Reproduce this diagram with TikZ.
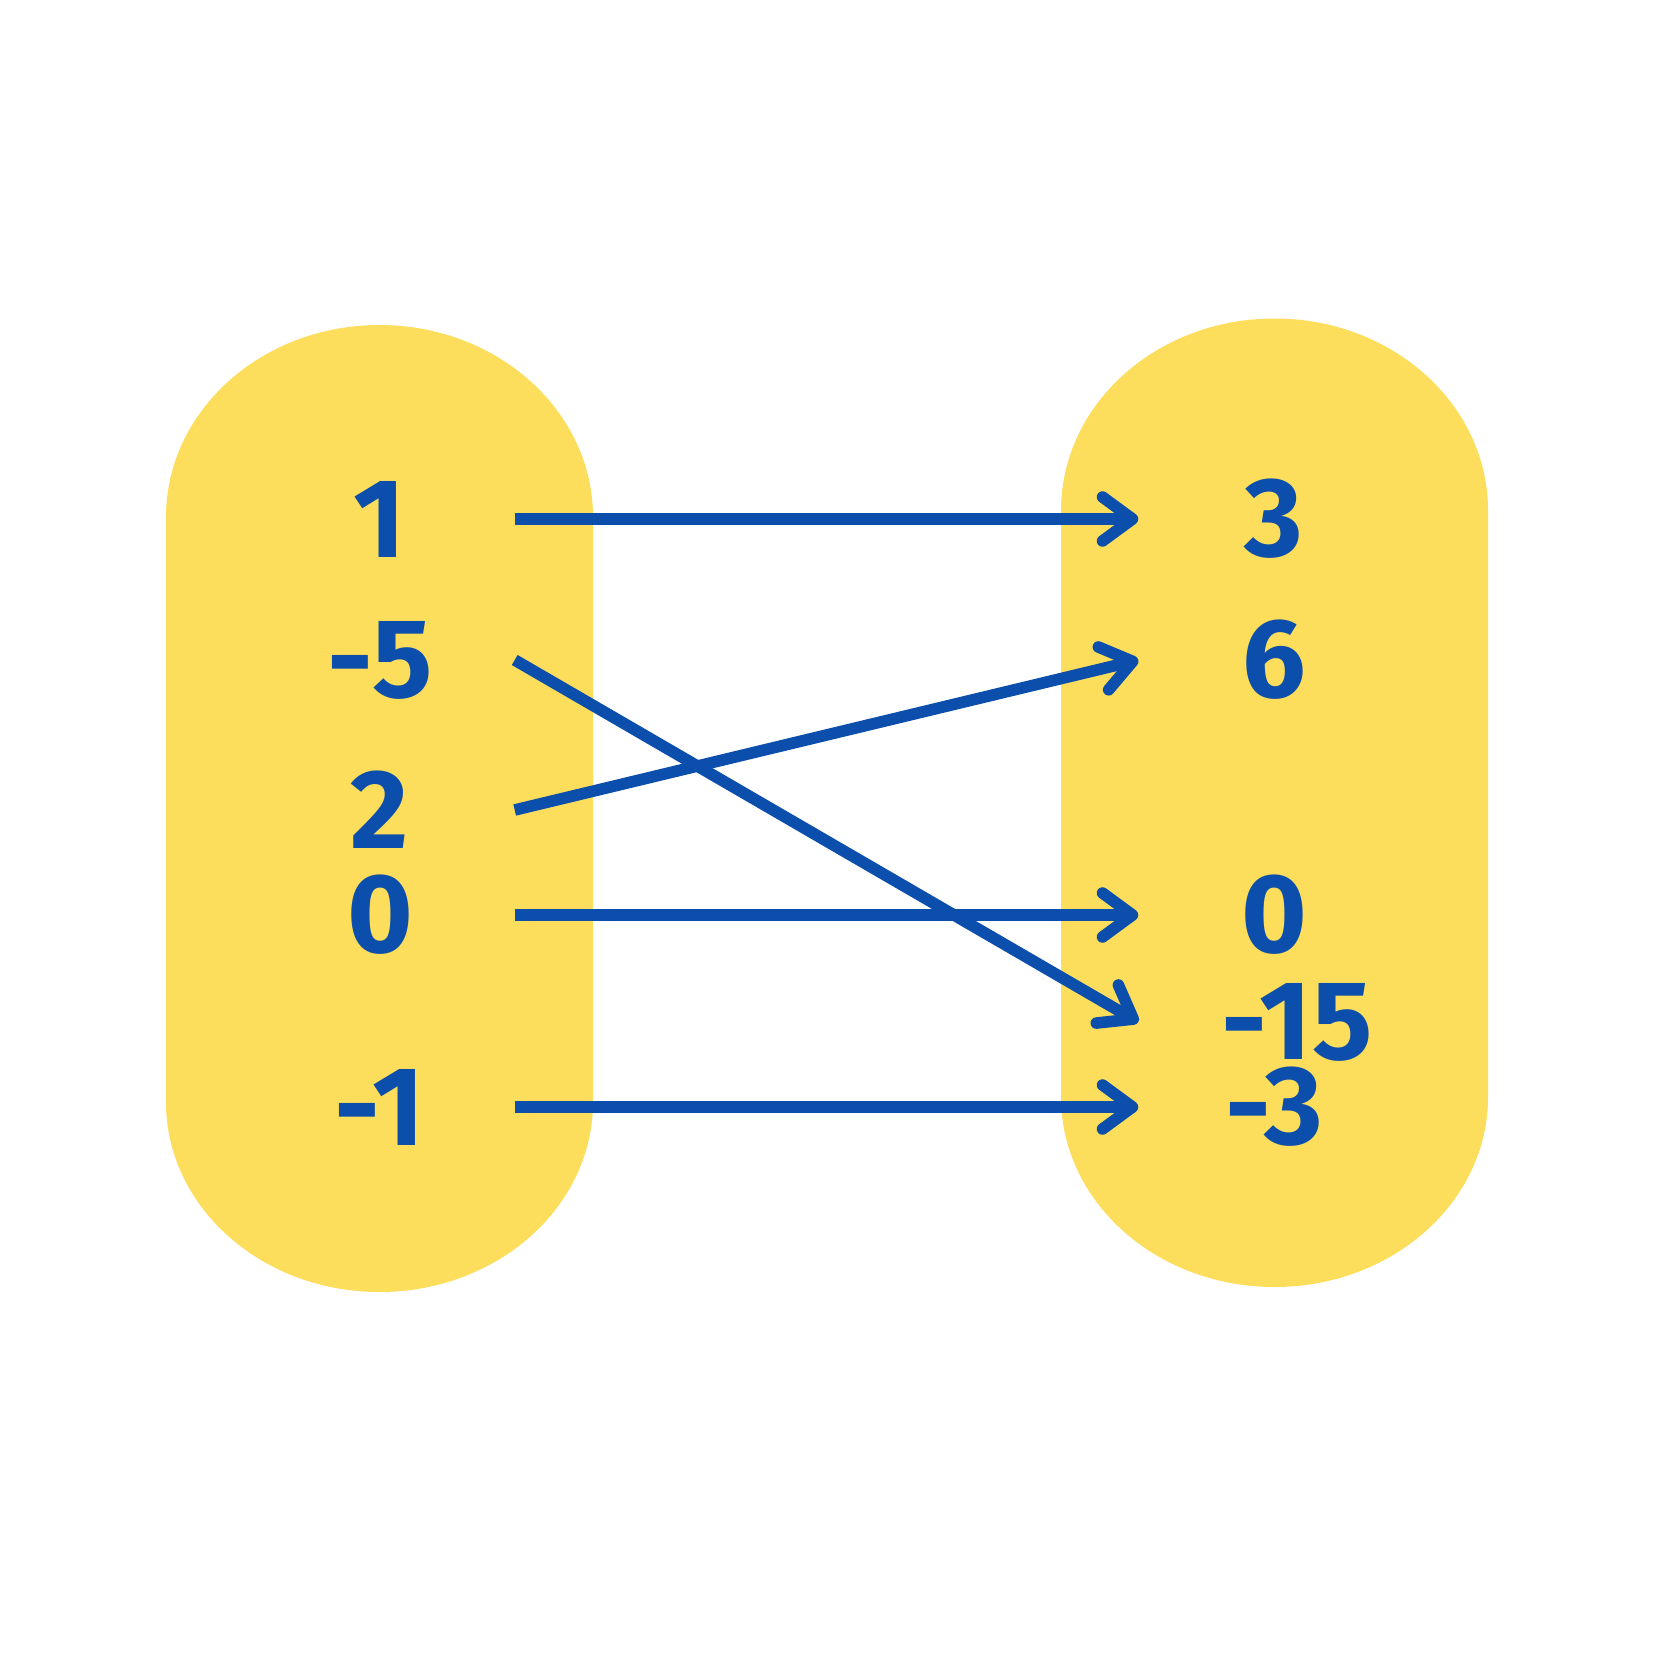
\documentclass[tikz,border=0pt]{standalone}
\usepackage{fontspec}
\setmainfont{Fira Sans}
\usetikzlibrary{arrows.meta}
\definecolor{setyellow}{HTML}{FDDE5C}
\definecolor{mapblue}{HTML}{0B4EAB}
\begin{document}
\begin{tikzpicture}[
		num/.style={text=mapblue, font=\fontsize{32}{32}\selectfont\bfseries, inner sep=0pt, minimum height=0.8cm},
		dom/.style={num, minimum width=2.68cm},
		codom/.style={num, minimum width=2.70cm},
		mapsto/.style={draw=mapblue, line width=3.3pt, -{Straight Barb[length=3.0mm,width=4.4mm,round]}}
	]
	\useasboundingbox (0,0) rectangle (16.54,-16.54);
	
	% hai tập hợp
	\fill[setyellow] (1.66,-5.17) arc[start angle=180,end angle=0,x radius=2.135,y radius=1.92]
		-- (5.93,-11.02) arc[start angle=0,end angle=-180,x radius=2.135,y radius=1.90] -- cycle;
	\fill[setyellow] (10.61,-5.105) arc[start angle=180,end angle=0,x radius=2.135,y radius=1.92]
		-- (14.88,-10.97) arc[start angle=0,end angle=-180,x radius=2.135,y radius=1.90] -- cycle;
	
	% tập nguồn
	\node[dom] (x1) at (3.80,-5.19) {1};
	\node[dom] (xm5) at (3.80,-6.60) {-5};
	\node[dom] (x2) at (3.80,-8.10) {2};
	\node[dom] (x0) at (3.80,-9.15) {0};
	\node[dom] (xm1) at (3.80,-11.07) {-1};
	
	% tập đích
	\node[codom] (y3) at (12.74,-5.19) {3};
	\node[codom] (y6) at (12.74,-6.60) {6};
	\node[codom] (y0) at (12.74,-9.15) {0};
	\node[codom, minimum width=3.16cm] (ym15) at (12.97,-10.22) {-15};
	\node[codom] (ym3) at (12.74,-11.07) {-3};
	
	% các mũi tên
	\draw[mapsto] (x1) -- (y3);
	\draw[mapsto] (xm5.east) -- (ym15.west);
	\draw[mapsto] (x2.east) -- (y6.west);
	\draw[mapsto] (x0) -- (y0);
	\draw[mapsto] (xm1) -- (ym3);
\end{tikzpicture}
\end{document}
